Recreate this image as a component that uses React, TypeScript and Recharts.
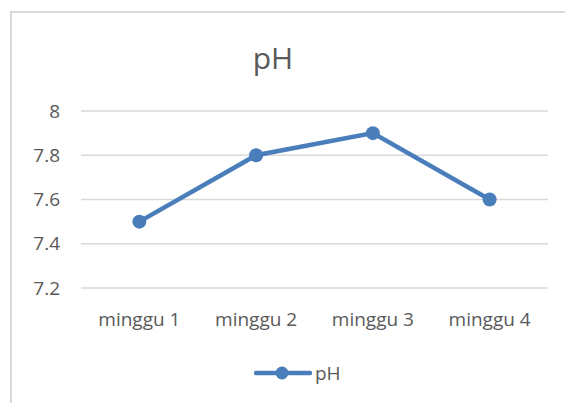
import { LineChart, Line, XAxis, YAxis, CartesianGrid } from "recharts";

const weeks = ["minggu 1", "minggu 2", "minggu 3", "minggu 4"];
const phValues = [7.5, 7.8, 7.9, 7.6];
const yTicks = [7.2, 7.4, 7.6, 7.8, 8];

const COLOR = "#4a7ebb";
const TEXT = "#595959";
const FONT = "'Open Sans', sans-serif";

const data = weeks.map((w, i) => ({ name: w, pH: phValues[i] }));

export default function App() {
  return (
    <div
      style={{
        position: "absolute",
        left: 0,
        top: 0,
        width: 565,
        height: 403,
        overflow: "hidden",
        background: "#fff",
        fontFamily: FONT,
      }}
    >
      {/* chart frame, runs past the right/bottom edge like the screenshot */}
      <div
        style={{
          position: "absolute",
          left: 10,
          top: 11,
          width: 600,
          height: 440,
          border: "2px solid #d9d9d9",
          boxSizing: "border-box",
        }}
      />
      <div
        style={{
          position: "absolute",
          left: 0,
          top: 43,
          width: 546,
          textAlign: "center",
          fontSize: 30,
          lineHeight: "30px",
          color: TEXT,
        }}
      >
        pH
      </div>
      <div style={{ position: "absolute", left: 0, top: 0 }}>
        <LineChart
          width={565}
          height={403}
          data={data}
          margin={{ top: 111, right: 17, bottom: 85, left: 0 }}
        >
          <CartesianGrid vertical={false} stroke="#d9d9d9" strokeWidth={1.5} />
          <XAxis
            dataKey="name"
            scale="band"
            axisLine={false}
            tickLine={false}
            tickSize={0}
            tickMargin={25}
            height={30}
            tick={{ fill: TEXT, fontSize: 19, fontFamily: FONT }}
          />
          <YAxis
            domain={[7.2, 8]}
            ticks={yTicks}
            axisLine={false}
            tickLine={false}
            tickSize={0}
            tickMargin={21}
            width={81}
            tick={{ fill: TEXT, fontSize: 19, fontFamily: FONT }}
          />
          <Line
            dataKey="pH"
            stroke={COLOR}
            strokeWidth={4.5}
            dot={{ r: 7, fill: COLOR, stroke: COLOR, strokeWidth: 0 }}
            activeDot={false}
            isAnimationActive={false}
          />
        </LineChart>
      </div>
      {/* legend */}
      <div
        style={{
          position: "absolute",
          left: 254,
          top: 362,
          display: "flex",
          alignItems: "center",
          color: TEXT,
          fontSize: 19,
          lineHeight: "22px",
        }}
      >
        <svg width={58} height={22}>
          <line x1={2} y1={11} x2={56} y2={11} stroke={COLOR} strokeWidth={4.5} strokeLinecap="round" />
          <circle cx={28} cy={11} r={6.5} fill={COLOR} />
        </svg>
        <span style={{ marginLeft: 3 }}>pH</span>
      </div>
    </div>
  );
}
